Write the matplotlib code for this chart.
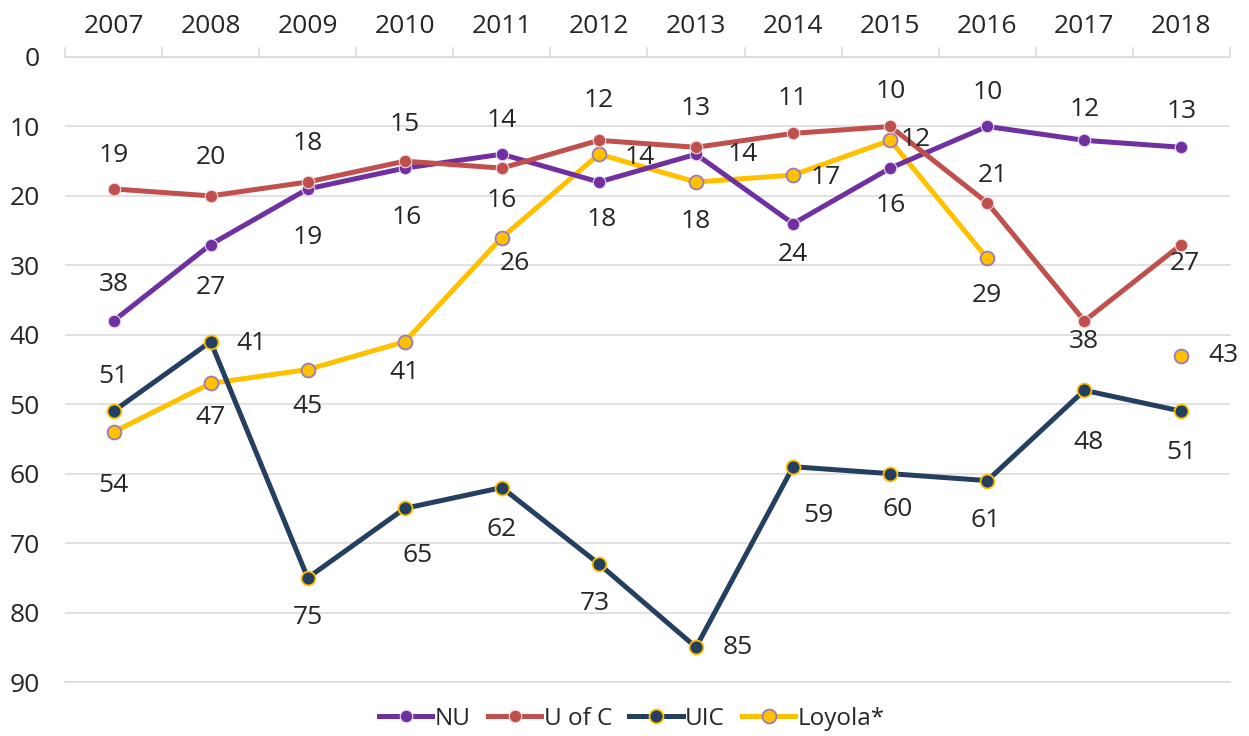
import matplotlib
matplotlib.use("Agg")
import matplotlib.pyplot as plt
import numpy as np

years = ["2007", "2008", "2009", "2010", "2011", "2012", "2013", "2014", "2015", "2016", "2017", "2018"]
nu = [38, 27, 19, 16, 14, 18, 14, 24, 16, 10, 12, 13]
uofc = [19, 20, 18, 15, 16, 12, 13, 11, 10, 21, 38, 27]
uic = [51, 41, 75, 65, 62, 73, 85, 59, 60, 61, 48, 51]
loyola = [54, 47, 45, 41, 26, 14, 18, 17, 12, 29, None, 43]
y_ticks = [0, 10, 20, 30, 40, 50, 60, 70, 80, 90]

# label offsets in pixels (dx, dy) ; dy positive = downward on screen
off_nu = [(0, -36), (0, 43), (0, 49), (2, 49), (0, -34), (3, 37), (47, 0), (0, 31), (0, 37), (0, -34), (0, -31), (0, -36)]
off_uofc = [(0, -33), (0, -38), (0, -39), (0, -37), (0, 32), (0, -40), (0, -39), (0, -35), (0, -35), (6, -27), (0, 21), (3, 19)]
off_uic = [(0, -35), (41, 2), (0, 40), (13, 47), (0, 42), (-4, 40), (42, 0), (25, 49), (7, 36), (-2, 40), (4, 52), (0, 41)]
off_loy = [(0, 53), (0, 34), (0, 37), (0, 31), (13, 26), (41, 3), (0, 40), (33, 2), (25, -1), (0, 37), None, (42, 0)]

plt.rcParams['font.family'] = ['Open Sans', 'DejaVu Sans']
FS = 19

fig = plt.figure(figsize=(12.49, 7.36), dpi=100)
ax = fig.add_axes([65/1249, 1-682/736, (1230-65)/1249, (682-57)/736])

x = np.arange(len(years))
grid_c = "#D9D9D9"
txt_c = "#262626"

def arr(v):
    return np.array([np.nan if a is None else a for a in v], dtype=float)

series = [
    ("NU", nu, off_nu, dict(color="#7030A0", marker="o", markersize=9, markerfacecolor="#7030A0",
                              markeredgecolor="#E8D8F0", markeredgewidth=0.8), 4),
    ("U of C", uofc, off_uofc, dict(color="#C0504D", marker="o", markersize=9, markerfacecolor="#C0504D",
                                      markeredgecolor="#F2D8D8", markeredgewidth=0.8), 5),
    ("UIC", uic, off_uic, dict(color="#243F60", marker="o", markersize=10, markerfacecolor="#243F60",
                                 markeredgecolor="#FFC000", markeredgewidth=1.3), 6),
    ("Loyola*", loyola, off_loy, dict(color="#FFC000", marker="o", markersize=10, markerfacecolor="#FFC000",
                                        markeredgecolor="#9B7BB8", markeredgewidth=1.3), 3),
]

handles = []
for name, vals, offs, style, z in series:
    y = arr(vals)
    h, = ax.plot(x, y, linewidth=3.6, label=name, zorder=z, clip_on=False, **style)
    handles.append(h)
    for i, v in enumerate(vals):
        if v is None:
            continue
        dx, dy = offs[i]
        ax.annotate(str(v), (x[i], v), xytext=(dx, -dy), textcoords="offset pixels",
                    ha="center", va="center", fontsize=FS, color=txt_c, zorder=10)

ax.set_xlim(-0.5, len(years) - 0.5)
ax.set_ylim(90, 0)
ax.set_yticks(y_ticks)
ax.set_yticklabels([str(t) for t in y_ticks])
ax.set_xticks(x)
ax.set_xticklabels(years)
ax.set_xticks(np.arange(-0.5, len(years), 1.0), minor=True)

ax.xaxis.tick_top()
ax.tick_params(axis="x", which="major", length=0, pad=13, labelsize=FS, labelcolor=txt_c)
ax.tick_params(axis="x", which="minor", length=7, width=1.1, color=grid_c, direction="out")
ax.tick_params(axis="y", which="major", length=0, pad=18, labelsize=FS, labelcolor=txt_c)

ax.grid(axis="y", color=grid_c, linewidth=1.1, zorder=0)
ax.set_axisbelow(True)
for s in ["left", "right"]:
    ax.spines[s].set_visible(False)
ax.spines["top"].set_color(grid_c)
ax.spines["top"].set_linewidth(1.1)
ax.spines["bottom"].set_color(grid_c)
ax.spines["bottom"].set_linewidth(1.1)

leg = fig.legend(handles=handles, loc="center", bbox_to_anchor=(632/1249, 17/736), ncol=4,
                 frameon=False, fontsize=FS - 1.5, handlelength=2.2, handletextpad=0.1,
                 columnspacing=0.7, borderaxespad=0)
for t in leg.get_texts():
    t.set_color(txt_c)

fig.savefig("out.png", dpi=100)
